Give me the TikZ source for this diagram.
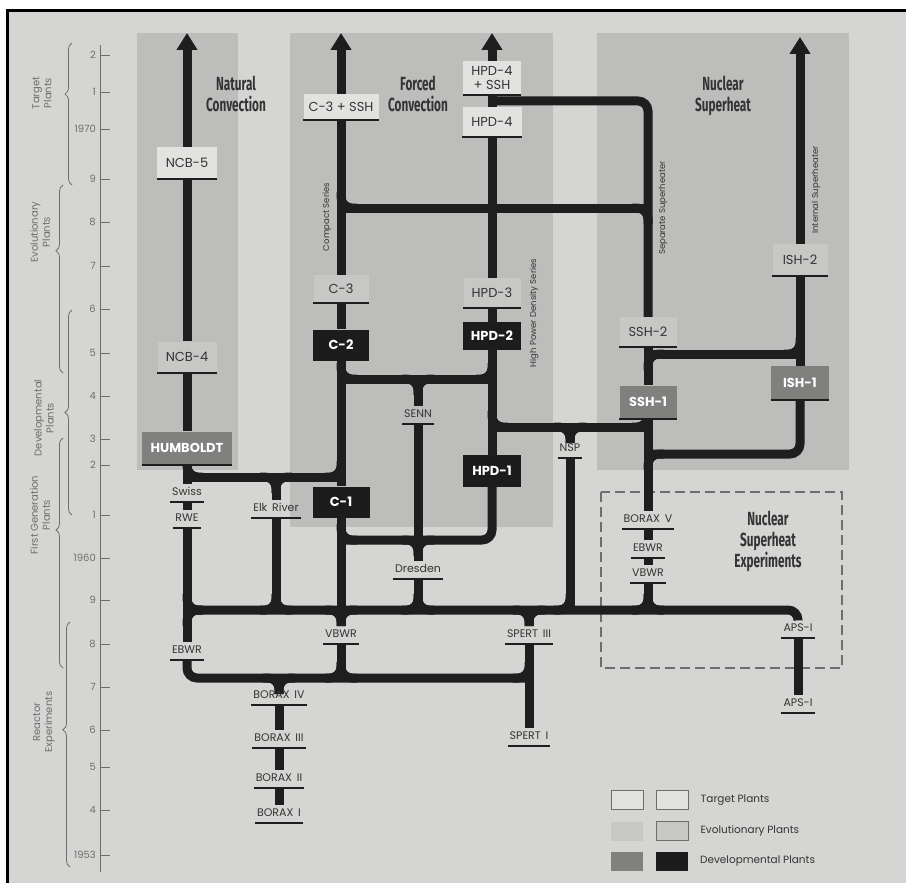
\documentclass[tikz,border=0pt]{standalone}
\usepackage{fontspec}
\setmainfont{Poppins}
\newfontfamily\headfont[FakeStretch=0.62]{Fira Sans}
\usetikzlibrary{arrows.meta,calc,positioning,decorations.pathreplacing}

\definecolor{pagebg}{RGB}{213,213,211}
\definecolor{bandcol}{RGB}{189,189,188}
\definecolor{tgtfill}{RGB}{226,226,224}
\definecolor{evofill}{RGB}{199,199,198}
\definecolor{devgray}{RGB}{128,128,127}
\definecolor{devblack}{RGB}{28,28,28}
\definecolor{pipecol}{RGB}{30,30,30}
\definecolor{labcol}{RGB}{52,52,52}
\definecolor{axiscol}{RGB}{110,110,110}

\pgfdeclarelayer{bg}
\pgfdeclarelayer{pipes}
\pgfsetlayers{bg,pipes,main}

\tikzset{
  pipe/.style={line width=9pt, draw=pipecol},
  arr/.style={-{Triangle[width=20pt,length=17pt]}},
  underbar/.style={append after command={(\tikzlastnode.south west) edge[draw=pipecol, line width=2pt] (\tikzlastnode.south east)}},
  box/.style={minimum width=57pt, minimum height=30pt, inner sep=0pt, font=\fontsize{13}{14}\selectfont},
  tgt/.style={box, fill=tgtfill, text=labcol, underbar},
  evo/.style={box, fill=evofill, text=labcol, underbar},
  devg/.style={box, fill=devgray, text=white, font=\fontsize{13}{14}\selectfont\bfseries, underbar},
  devb/.style={box, fill=devblack, text=white, font=\fontsize{13}{14}\selectfont\bfseries},
  expt/.style={anchor=base, text height=8pt, text depth=4.5pt, inner ysep=2.5pt, inner xsep=2pt,
    text=labcol, font=\fontsize{11}{12}\selectfont, underbar},
  head/.style={align=center, text=labcol, font=\headfont\bfseries\fontsize{19}{21}\selectfont},
  series/.style={rotate=90, text=labcol, font=\fontsize{8.5}{9}\selectfont},
  period/.style={rotate=90, align=center, text=axiscol, font=\fontsize{10}{12}\selectfont},
  brc/.style={draw=axiscol, line width=0.8pt, decorate},
  lgd/.style={minimum width=32pt, minimum height=19pt, inner sep=0pt},
  pics/fil/.style 2 args={code={\draw[pipe, rounded corners=11pt] (#1*16,0) -- (0,0) -- (0,#2*16);}}
}

\begin{document}
\begin{tikzpicture}[x=1pt, y=-1pt]
\useasboundingbox (0,0) rectangle (906,883);

\begin{pgfonlayer}{bg}
\fill[white] (0,0) rectangle (906,883);
\fill[pagebg] (7,11) rectangle (906,883);
\draw[black, line width=3pt] (906,11) -- (7,11) -- (7,883);
% bands
\fill[bandcol] (137,33) rectangle (238,470);
\fill[bandcol] (290,33) rectangle (553,527);
\fill[bandcol] (597,33) rectangle (849,470);
\draw[axiscol, line width=1.2pt, dash pattern=on 10pt off 5pt] (601,492) rectangle (842,668);
\end{pgfonlayer}

% time axis
\draw[axiscol, line width=0.9pt] (100,45) -- (100,872);
\foreach \y/\t in {55/2, 92/1, 129/1970, 179/9, 222/8, 266/7, 309/6, 353/5, 396/4, 439/3,
                   465/2, 515/1, 558/1960, 600/9, 644/8, 687/7, 730/6, 767/5, 810/4, 855/1953}{
  \draw[axiscol, line width=0.9pt] (100,\y) -- (110,\y);
  \node[anchor=east, text=axiscol, font=\fontsize{10}{11}\selectfont, inner sep=1pt] (yr-\y) at (97,\y) {\t};
}

% braces
\draw[brc, decoration={brace, amplitude=7pt, aspect=0.64}] (72,185) -- (72,43);
\draw[brc, decoration={brace, amplitude=7pt, aspect=0.65}] (63,373) -- (63,185);
\draw[brc, decoration={brace, amplitude=7pt, aspect=0.5}] (72,515) -- (72,310);
\draw[brc, decoration={brace, amplitude=7pt, aspect=0.6}] (63,668) -- (63,438);
\draw[brc, decoration={brace, amplitude=7pt, aspect=0.56}] (70,867) -- (70,622);
\node[period] (p-tgt) at (42,93) {Target\\Plants};
\node[period] (p-evo) at (40,232) {Evolutionary\\Plants};
\node[period] (p-dev) at (44,418) {Developmental\\Plants};
\node[period] (p-fst) at (40,515) {First Generation\\Plants};
\node[period] (p-rex) at (44,722) {Reactor\\Experiments};

% headings
\node[head] (h-nat) at (236,94) {Natural\\Convection};
\node[head] (h-frc) at (418,94) {Forced\\Convection};
\node[head] (h-nsh) at (723,96) {Nuclear\\Superheat};
\node[head] (h-nse) at (768,541) {Nuclear\\Superheat\\Experiments};

% series names
\node[series] (s-cmp) at (327,217) {Compact Series};
\node[series] (s-hpd) at (534,313) {High Power Density Series};
\node[series] (s-ssh) at (663,208) {Separate Superheater};
\node[series] (s-ish) at (816,190) {Internal Superheater};

% plants
\node[tgt, minimum width=60pt, minimum height=32pt] (ncb5) at (187,163) {NCB-5};
\node[evo, minimum width=59pt, minimum height=31pt] (ncb4) at (187,357) {NCB-4};
\node[devg, minimum width=90pt, minimum height=33pt] (hum) at (187,448) {HUMBOLDT};
\node[tgt, minimum width=75pt, minimum height=26pt] (c3ssh) at (341,107) {C-3 + SSH};
\node[evo, minimum width=55pt, minimum height=28pt] (c3) at (341,289) {C-3};
\node[devb, minimum width=56pt, minimum height=31pt] (c2) at (341,345) {C-2};
\node[devb, minimum width=57pt, minimum height=31pt] (c1) at (341,502) {C-1};
\node[tgt, minimum width=58pt, minimum height=33pt, align=center, font=\fontsize{13}{14}\selectfont] (hpd4s) at (492,78) {HPD-4\\+ SSH};
\node[tgt, minimum width=59pt] (hpd4) at (492,122) {HPD-4};
\node[evo] (hpd3) at (492,293) {HPD-3};
\node[devb, minimum width=58pt, minimum height=28pt] (hpd2) at (492,336) {HPD-2};
\node[devb, minimum width=58pt, minimum height=32pt] (hpd1) at (492,471) {HPD-1};
\node[evo] (ssh2) at (648,332) {SSH-2};
\node[devg, minimum height=33pt] (ssh1) at (648,402) {SSH-1};
\node[evo, minimum width=55pt, minimum height=32pt] (ish2) at (800,260) {ISH-2};
\node[devg, minimum width=58pt, minimum height=34pt] (ish1) at (800,383) {ISH-1};

% experiments and first plants
\node[expt] (swiss) at (187,495) {Swiss};
\node[expt] (rwe) at (187,521) {RWE};
\node[expt] (elk) at (276,511) {Elk\, River};
\node[expt] (senn) at (418,417) {SENN};
\node[expt] (dres) at (418,572) {Dresden};
\node[expt] (nsp) at (570,451) {NSP};
\node[expt] (bx5) at (648,522) {BORAX\, V};
\node[expt] (ebwrR) at (648,551) {EBWR};
\node[expt] (vbwrR) at (648,576) {VBWR};
\node[expt] (ebwrL) at (187,653) {EBWR};
\node[expt] (vbwrL) at (341,637) {VBWR};
\node[expt] (sp3) at (529,637) {SPERT\, III};
\node[expt] (bx4) at (279,698) {BORAX\, IV};
\node[expt] (bx3) at (279,741) {BORAX\, III};
\node[expt] (bx2) at (279,781) {BORAX\, II};
\node[expt] (bx1) at (279,816) {BORAX\, I};
\node[expt] (sp1) at (529,739) {SPERT\, I};
\node[expt] (apsU) at (798,631) {APS-I};
\node[expt] (apsL) at (798,706) {APS-I};

% legend
\node[lgd, fill=tgtfill, draw=axiscol, line width=0.8pt] (lg1a) at (627,800) {};
\node[lgd, fill=tgtfill, draw=axiscol, line width=0.8pt, right=13pt of lg1a] (lg1b) {};
\node[lgd, fill=evofill] (lg2a) at (627,831) {};
\node[lgd, fill=evofill, draw=axiscol, line width=0.8pt, right=13pt of lg2a] (lg2b) {};
\node[lgd, fill=devgray] (lg3a) at (627,861) {};
\node[lgd, fill=devblack, right=13pt of lg3a] (lg3b) {};
\node[anchor=west, text=labcol, font=\fontsize{10.5}{12}\selectfont] (lt1) at ([xshift=8pt]lg1b.east) {Target Plants};
\node[anchor=west, text=labcol, font=\fontsize{10.5}{12}\selectfont] (lt2) at ([xshift=8pt]lg2b.east) {Evolutionary Plants};
\node[anchor=west, text=labcol, font=\fontsize{10.5}{12}\selectfont] (lt3) at ([xshift=8pt]lg3b.east) {Developmental Plants};

% junctions
\coordinate (tN) at (187,33);
\coordinate (tC) at (341,33);
\coordinate (tH) at (492,33);
\coordinate (tI) at (800,37);
\coordinate (jHum) at (187,477);
\coordinate (jElk) at (276,477);
\coordinate (jCh) at (341,477);
\coordinate (jC8) at (341,208);
\coordinate (jS8) at (648,208);
\coordinate (jH1) at (492,101);
\coordinate (jC5) at (341,379);
\coordinate (jSe) at (418,379);
\coordinate (jH5) at (492,379);
\coordinate (jHn) at (492,427);
\coordinate (jNs) at (570,427);
\coordinate (jSn) at (648,427);
\coordinate (jC1) at (341,540);
\coordinate (jDr) at (418,540);
\coordinate (jSi) at (648,354);
\coordinate (jIs) at (800,354);
\coordinate (jSl) at (648,454);
\coordinate (m1) at (187,610);
\coordinate (m2) at (276,610);
\coordinate (m3) at (341,610);
\coordinate (m4) at (418,610);
\coordinate (m5) at (529,610);
\coordinate (m6) at (570,610);
\coordinate (m7) at (648,610);
\coordinate (mR) at (798,610);
\coordinate (l3) at (279,678);
\coordinate (l4) at (341,678);
\coordinate (l5) at (529,678);

\begin{pgfonlayer}{pipes}
% natural convection
\draw[pipe, arr] (ncb5.north) -- (tN);
\draw[pipe] (ncb5.south) -- (ncb4.north);
\draw[pipe] (ncb4.south) -- (hum.north);
\draw[pipe] (hum.south) -- (swiss.north);
\draw[pipe] (swiss.south) -- (rwe.north);
\draw[pipe] (rwe.south) -- (ebwrL.north);
\draw[pipe] (jHum) -- (jCh);
\draw[pipe] (jElk) -- (elk.north);
\draw[pipe] (elk.south) -- (m2);
% compact series
\draw[pipe, arr] (c3ssh.north) -- (tC);
\draw[pipe] (c3ssh.south) -- (c3.north);
\draw[pipe] (c3.south) -- (c2.north);
\draw[pipe] (c2.south) -- (c1.north);
\draw[pipe] (c1.south) -- (vbwrL.north);
\draw[pipe] (vbwrL.south) -- (l4);
\draw[pipe] (jC8) -- (jS8);
\draw[pipe] (jC5) -- (jH5);
\draw[pipe] (jSe) -- (senn.north);
\draw[pipe] (senn.south) -- (jDr);
\draw[pipe] (jDr) -- (dres.north);
\draw[pipe] (dres.south) -- (m4);
% high power density
\draw[pipe, arr] (hpd4s.north) -- (tH);
\draw[pipe] (hpd4s.south) -- (hpd4.north);
\draw[pipe] (hpd4.south) -- (hpd3.north);
\draw[pipe] (hpd3.south) -- (hpd2.north);
\draw[pipe] (hpd2.south) -- (hpd1.north);
\draw[pipe, rounded corners=10pt] (hpd1.south) |- (jC1);
\draw[pipe, rounded corners=10pt] (jH1) -| (ssh2.north);
\draw[pipe] (jHn) -- (jSn);
\draw[pipe] (jNs) -- (nsp.north);
\draw[pipe] (nsp.south) -- (m6);
% superheat
\draw[pipe] (ssh2.south) -- (ssh1.north);
\draw[pipe] (ssh1.south) -- (bx5.north);
\draw[pipe] (bx5.south) -- (ebwrR.north);
\draw[pipe] (ebwrR.south) -- (vbwrR.north);
\draw[pipe] (vbwrR.south) -- (m7);
\draw[pipe, arr] (ish2.north) -- (tI);
\draw[pipe] (ish2.south) -- (ish1.north);
\draw[pipe, rounded corners=10pt] (ish1.south) |- (jSl);
\draw[pipe] (jSi) -- (jIs);
% reactor experiments
\draw[pipe, rounded corners=10pt] (m1) -- (mR) -- (apsU.north);
\draw[pipe] (apsU.south) -- (apsL.north);
\draw[pipe, rounded corners=10pt] (ebwrL.south) |- (l5);
\draw[pipe] (m5) -- (sp3.north);
\draw[pipe] (sp3.south) -- (sp1.north);
\draw[pipe] (l3) -- (bx4.north);
\draw[pipe] (bx4.south) -- (bx3.north);
\draw[pipe] (bx3.south) -- (bx2.north);
\draw[pipe] (bx2.south) -- (bx1.north);
% fillets
\pic at (jHum) {fil={1}{-1}};
\pic at (jElk) {fil={-1}{1}}; \pic at (jElk) {fil={1}{1}};
\pic at (jCh) {fil={-1}{-1}};
\pic at (jC8) {fil={1}{-1}};
\pic at (jS8) {fil={-1}{1}};
\pic at (jC5) {fil={1}{-1}};
\pic at (jSe) {fil={-1}{1}}; \pic at (jSe) {fil={1}{1}};
\pic at (jH5) {fil={-1}{-1}};
\pic at (jHn) {fil={1}{-1}};
\pic at (jNs) {fil={-1}{1}}; \pic at (jNs) {fil={1}{1}};
\pic at (jSn) {fil={-1}{-1}};
\pic at (jC1) {fil={1}{-1}};
\pic at (jDr) {fil={-1}{1}}; \pic at (jDr) {fil={1}{1}};
\pic at (jSi) {fil={1}{1}};
\pic at (jIs) {fil={-1}{-1}};
\pic at (jSl) {fil={1}{1}};
\pic at (m1) {fil={1}{-1}}; \pic at (m1) {fil={1}{1}};
\pic at (m2) {fil={-1}{-1}}; \pic at (m2) {fil={1}{-1}};
\pic at (m3) {fil={-1}{1}}; \pic at (m3) {fil={1}{1}};
\pic at (m4) {fil={-1}{-1}}; \pic at (m4) {fil={1}{-1}};
\pic at (m5) {fil={-1}{1}}; \pic at (m5) {fil={1}{1}};
\pic at (m6) {fil={-1}{-1}};
\pic at (m7) {fil={-1}{-1}}; \pic at (m7) {fil={1}{-1}};
\pic at (l3) {fil={-1}{1}}; \pic at (l3) {fil={1}{1}};
\pic at (l4) {fil={-1}{-1}}; \pic at (l4) {fil={1}{-1}};
\pic at (l5) {fil={-1}{-1}};
\end{pgfonlayer}
\end{tikzpicture}
\end{document}
